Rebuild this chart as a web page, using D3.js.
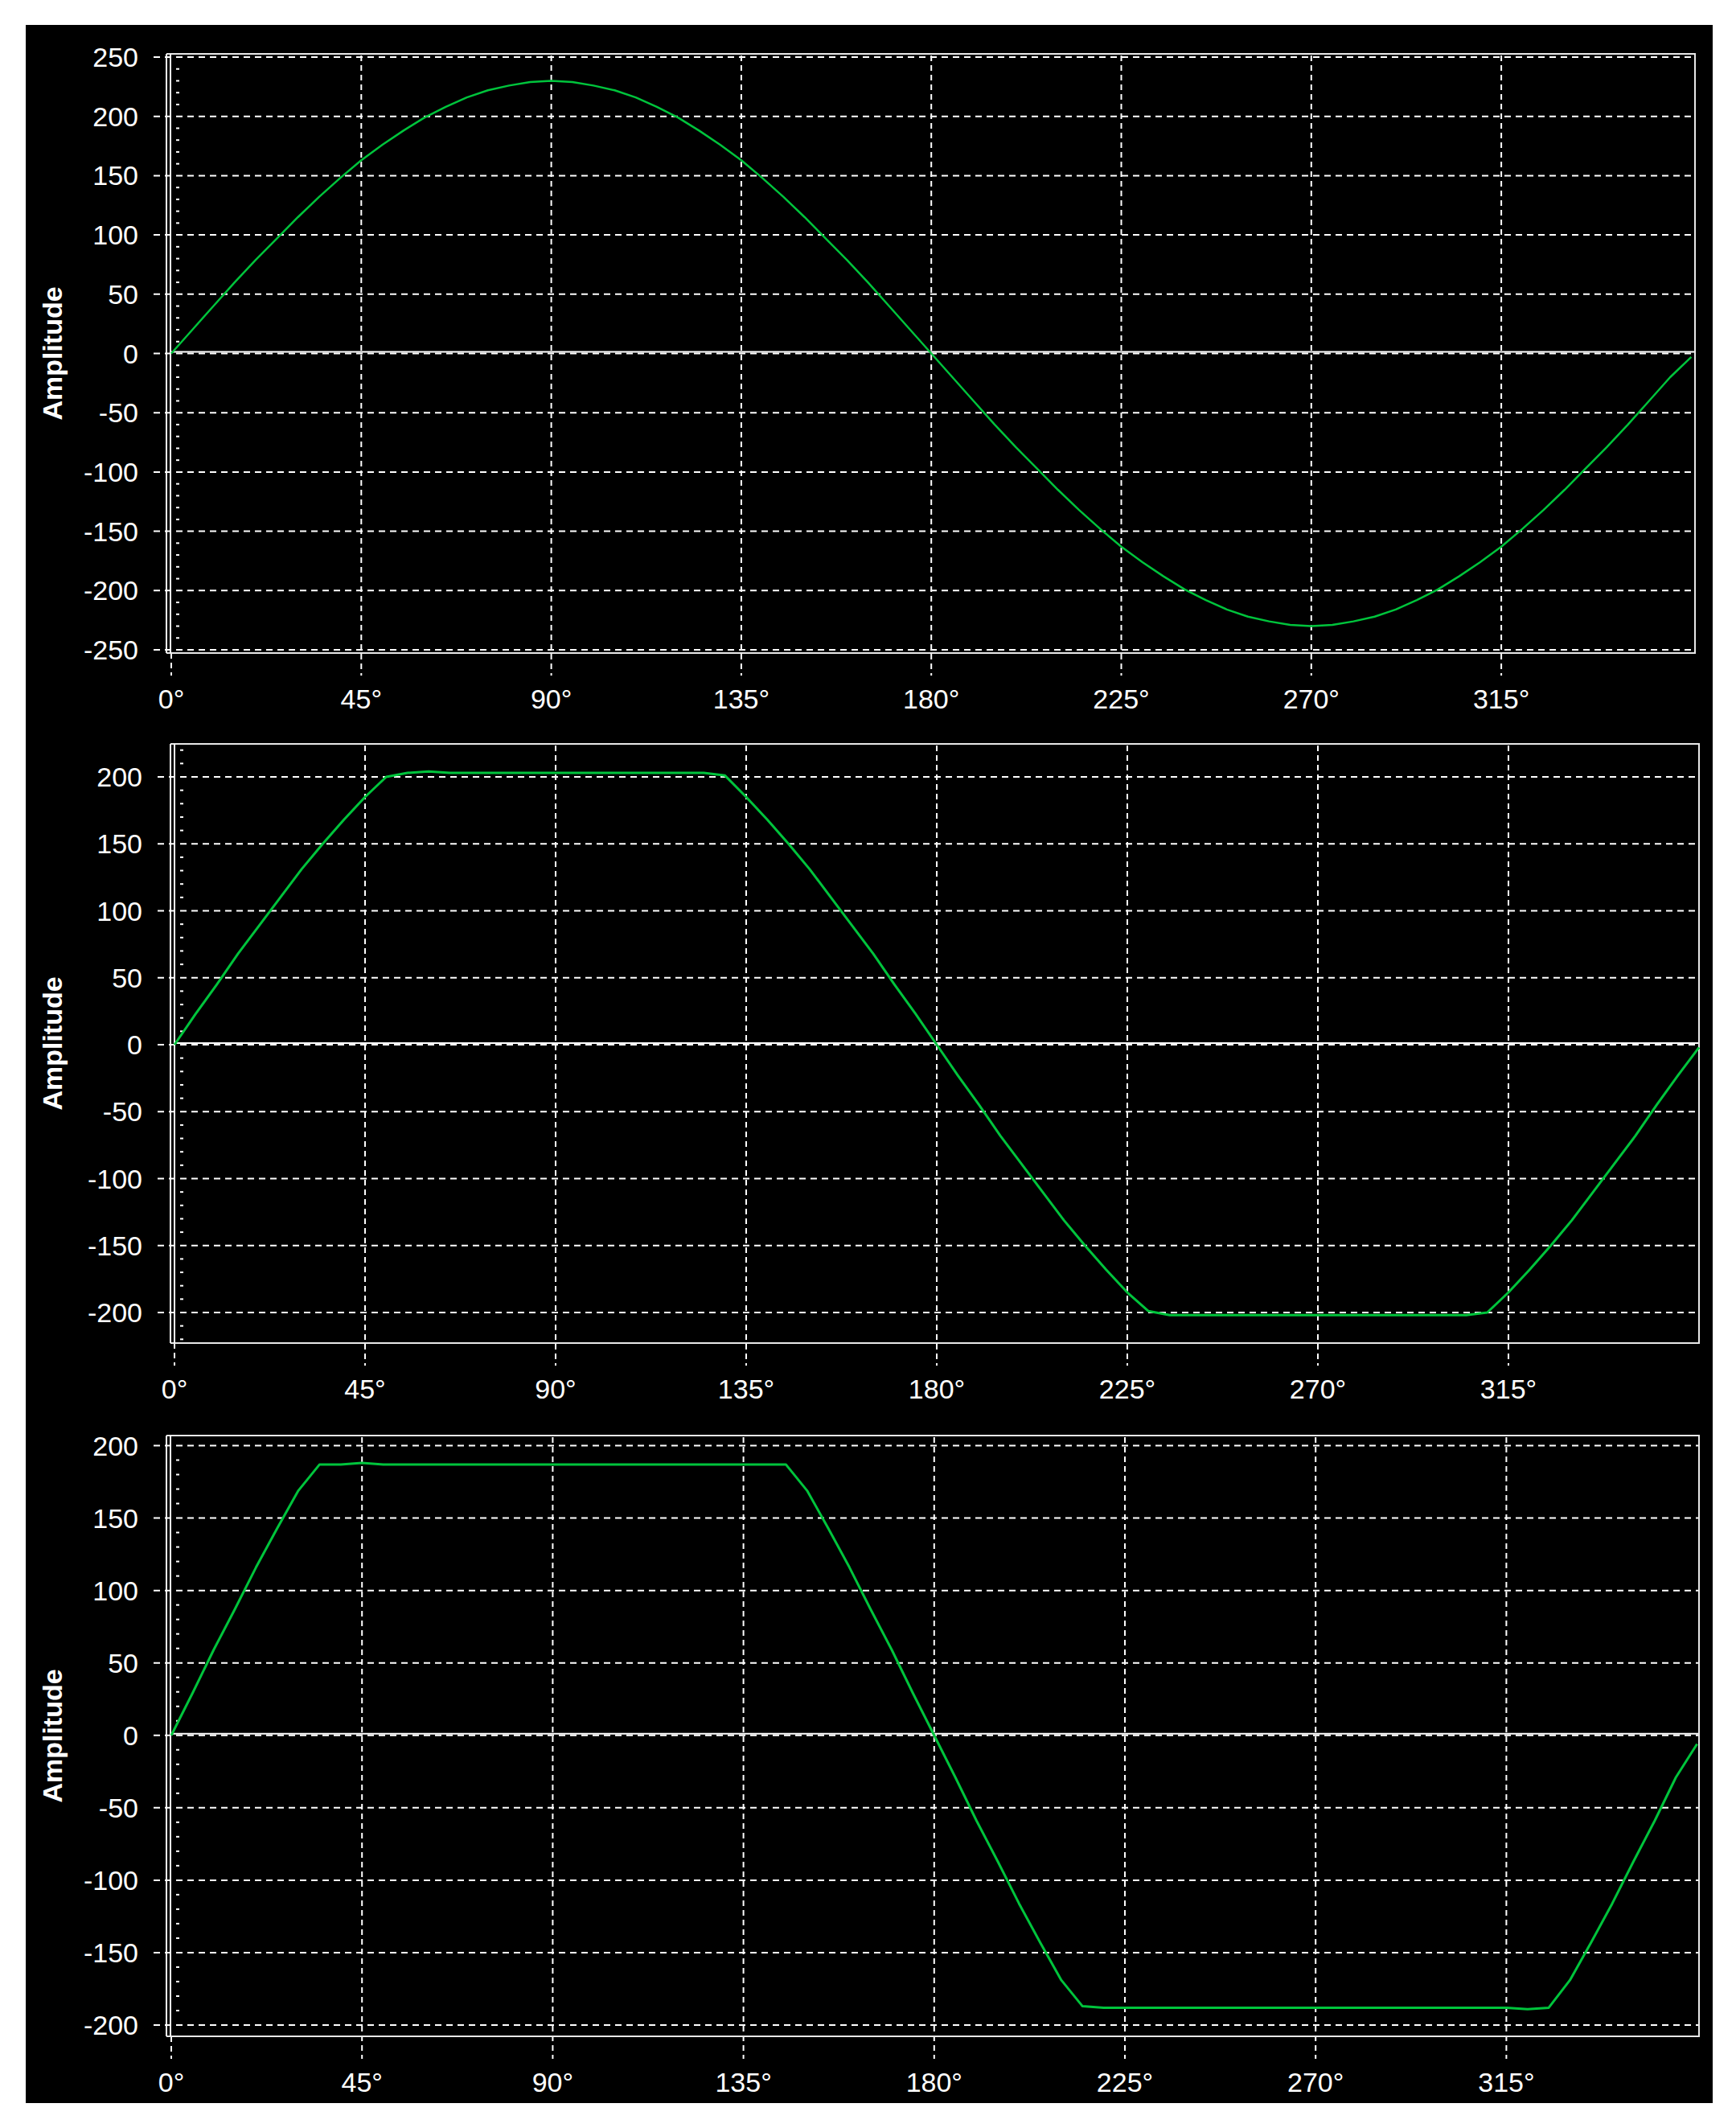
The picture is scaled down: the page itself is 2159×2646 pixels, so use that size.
<!DOCTYPE html>
<html>
<head>
<meta charset="utf-8">
<script src="https://cdn.jsdelivr.net/npm/d3@7"></script>
<style>
  body { margin: 0; background: #fff; }
  text { font-family: Arial, "Liberation Sans", sans-serif; fill: #fff; }
</style>
</head>
<body>
<div id="chart"></div>
<script>
// phase angle in degrees, one sample every 5 degrees
const angles = [
  0, 5, 10, 15, 20, 25, 30, 35, 40, 45, 50, 55, 60, 65, 70, 75, 80, 85,
  90, 95, 100, 105, 110, 115, 120, 125, 130, 135, 140, 145, 150, 155, 160, 165, 170, 175,
  180, 185, 190, 195, 200, 205, 210, 215, 220, 225, 230, 235, 240, 245, 250, 255, 260, 265,
  270, 275, 280, 285, 290, 295, 300, 305, 310, 315, 320, 325, 330, 335, 340, 345, 350, 355, 360
];

// top chart: clean sine
const sineValues = [
  0, 20, 40, 60, 79, 97, 115, 132, 148, 163, 176, 188, 199, 208, 216, 222, 226, 229,
  230, 229, 226, 222, 216, 208, 199, 188, 176, 163, 148, 132, 115, 97, 79, 60, 40, 20,
  0, -20, -40, -60, -79, -97, -115, -132, -148, -163, -176, -188, -199, -208, -216, -222, -226, -229,
  -230, -229, -226, -222, -216, -208, -199, -188, -176, -163, -148, -132, -115, -97, -79, -60, -40, -20, -3
];

// middle chart: clipped at about +/-202
const clippedValues = [
  0, 23, 45, 68, 89, 110, 131, 150, 168, 185, 200, 203, 204, 203, 203, 203, 203, 203,
  203, 203, 203, 203, 203, 203, 203, 203, 201, 185, 168, 150, 131, 110, 89, 68, 45, 23,
  0, -23, -45, -68, -89, -110, -131, -150, -168, -185, -199, -202, -202, -202, -202, -202, -202, -202,
  -202, -202, -202, -202, -202, -202, -202, -202, -200, -185, -168, -150, -131, -110, -89, -68, -45, -23, -2
];

// bottom chart: hard clipped at about +/-187
const hardClippedValues = [
  0, 29, 59, 87, 116, 143, 169, 187, 187, 188, 187, 187, 187, 187, 187, 187, 187, 187,
  187, 187, 187, 187, 187, 187, 187, 187, 187, 187, 187, 187, 169, 143, 116, 87, 59, 29,
  0, -29, -59, -87, -116, -143, -169, -187, -188, -188, -188, -188, -188, -188, -188, -188, -188, -188,
  -188, -188, -188, -188, -188, -188, -188, -188, -188, -188, -189, -188, -169, -143, -116, -87, -59, -29, -6
];

const angleTicks = [0, 45, 90, 135, 180, 225, 270, 315];
const amplitudeTicksWide = [-250, -200, -150, -100, -50, 0, 50, 100, 150, 200, 250];
const amplitudeTicks = [-200, -150, -100, -50, 0, 50, 100, 150, 200];
const yLabel = "Amplitude";

const width = 2159;
const height = 2646;

const svg = d3
  .select("#chart")
  .append("svg")
  .attr("width", width)
  .attr("height", height);

svg.append("rect").attr("width", width).attr("height", height).attr("fill", "#fff");
svg.append("rect")
  .attr("x", 32).attr("y", 31)
  .attr("width", 2098).attr("height", 2584)
  .attr("fill", "#000");

// plot frames
const panels = [
  { values: sineValues, ticks: amplitudeTicksWide, yDomain: [-250, 250], yRange: [808, 71],
    L: 207, R: 2108, T: 67, B: 812, x0: 213, x45: 449.3, lineWidth: 2.5 },
  { values: clippedValues, ticks: amplitudeTicks, yDomain: [-200, 200], yRange: [1632, 966],
    L: 212, R: 2113, T: 925, B: 1670, x0: 217, x45: 454, lineWidth: 3 },
  { values: hardClippedValues, ticks: amplitudeTicks, yDomain: [-200, 200], yRange: [2518, 1797.5],
    L: 207, R: 2113, T: 1785, B: 2532, x0: 213, x45: 450.2, lineWidth: 3 }
];

panels.forEach(function(p) {
  const x = d3.scaleLinear().domain([0, 45]).range([p.x0, p.x45]);
  const y = d3.scaleLinear().domain(p.yDomain).range(p.yRange);
  const g = svg.append("g");

  // horizontal grid, running out past the left edge as tick marks
  g.selectAll(".hgrid")
    .data(p.ticks)
    .enter()
    .append("line")
    .attr("x1", p.L - 16)
    .attr("x2", p.R)
    .attr("y1", d => y(d))
    .attr("y2", d => y(d))
    .attr("stroke", "#fff")
    .attr("stroke-width", 2)
    .attr("stroke-dasharray", "8,6");

  // solid zero line on top of the dashed one
  g.append("line")
    .attr("x1", p.L + 5)
    .attr("x2", p.R)
    .attr("y1", y(0) - 2)
    .attr("y2", y(0) - 2)
    .attr("stroke", "#fff")
    .attr("stroke-width", 2);

  // vertical grid + tick marks below the frame
  g.selectAll(".vgrid")
    .data(angleTicks)
    .enter()
    .append("line")
    .attr("x1", d => x(d))
    .attr("x2", d => x(d))
    .attr("y1", d => (d === 0 ? p.B : p.T + 2))
    .attr("y2", p.B + 28)
    .attr("stroke", "#fff")
    .attr("stroke-width", 2)
    .attr("stroke-dasharray", "7,5");

  // minor ticks every 10
  const minor = d3.range(-250, 251, 10).filter(function(v) {
    return v % 50 !== 0 && y(v) > p.T + 3 && y(v) < p.B - 3;
  });
  g.selectAll(".minor")
    .data(minor)
    .enter()
    .append("line")
    .attr("x1", p.L + 12)
    .attr("x2", p.L + 16)
    .attr("y1", d => y(d))
    .attr("y2", d => y(d))
    .attr("stroke", "#fff")
    .attr("stroke-width", 2);

  // frame
  g.append("path")
    .attr("d", "M" + p.L + "," + p.T + "H" + p.R + "V" + p.B + "H" + p.L)
    .attr("fill", "none")
    .attr("stroke", "#e8e8e8")
    .attr("stroke-width", 2);
  [p.L, p.L + 5].forEach(function(lx) {
    g.append("line")
      .attr("x1", lx).attr("x2", lx)
      .attr("y1", p.T).attr("y2", p.B)
      .attr("stroke", "#fff")
      .attr("stroke-width", 2);
  });

  // tick labels
  g.selectAll(".ylab")
    .data(p.ticks)
    .enter()
    .append("text")
    .attr("x", p.L - 35)
    .attr("y", d => y(d) + 12)
    .attr("text-anchor", "end")
    .style("font-size", "34px")
    .text(d => d);

  g.selectAll(".xlab")
    .data(angleTicks)
    .enter()
    .append("text")
    .attr("x", d => x(d))
    .attr("y", p.B + 69)
    .attr("text-anchor", "middle")
    .style("font-size", "34px")
    .text(d => d + "°");

  g.append("text")
    .attr("transform", "translate(77," + (p.T + p.B) / 2 + ") rotate(-90)")
    .attr("text-anchor", "middle")
    .style("font-size", "34px")
    .style("font-weight", "bold")
    .text(yLabel);

  // the signal
  const line = d3
    .line()
    .x((d, i) => x(angles[i]))
    .y(d => y(d));
  g.append("path")
    .datum(p.values)
    .attr("d", line)
    .attr("fill", "none")
    .attr("stroke", "#00c43c")
    .attr("stroke-width", p.lineWidth)
    .attr("stroke-linejoin", "round");
});
</script>
</body>
</html>
